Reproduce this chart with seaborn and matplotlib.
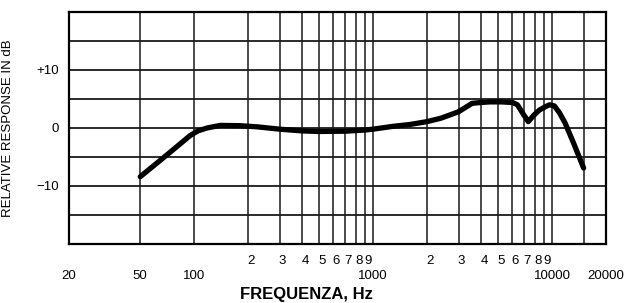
import numpy as np
import pandas as pd
import matplotlib
matplotlib.use("Agg")
import matplotlib.pyplot as plt
import matplotlib.transforms as mtransforms
import seaborn as sns

# frequency response curve (Hz, dB)
freq = [50, 72, 95, 105, 118, 140, 180, 225, 300, 400, 500, 700, 900, 1000,
        1300, 1600, 2000, 2400, 3000, 3570, 4000, 4500, 5200, 6000, 6400,
        6900, 7360, 7900, 8500, 9200, 9700, 10300, 11000, 11800, 13100, 15000]
response = [-8.4, -4.4, -1.3, -0.5, 0.0, 0.45, 0.4, 0.2, -0.2, -0.5, -0.6, -0.55,
            -0.35, -0.2, 0.3, 0.6, 1.1, 1.7, 2.8, 4.25, 4.4, 4.5, 4.5, 4.4, 4.0,
            2.4, 1.1, 2.2, 3.1, 3.7, 4.0, 3.8, 2.6, 0.9, -2.4, -6.9]

major_ticks = [20, 50, 100, 1000, 10000, 20000]
major_labels = ["20", "50", "100", "1000", "10000", "20000"]
minor_ticks = [200, 300, 400, 500, 600, 700, 800, 900,
               2000, 3000, 4000, 5000, 6000, 7000, 8000, 9000, 15000]
minor_labels = ["2", "3", "4", "5", "6", "7", "8", "9",
                "2", "3", "4", "5", "6", "7", "8", "9", ""]
y_ticks = [-20, -15, -10, -5, 0, 5, 10, 15, 20]
y_labels = ["", "", "\u221210", "", "0", "", "+10", "", ""]

df = pd.DataFrame({"freq": freq, "dB": response})

sns.set_theme(style="white")
plt.rcParams["font.family"] = ["Liberation Sans", "DejaVu Sans"]

fig = plt.figure(figsize=(6.25, 3.03), dpi=100)
ax = fig.add_axes([69/625, 1 - 244/303, (606 - 69)/625, (244 - 12)/303])

sns.lineplot(data=df, x="freq", y="dB", ax=ax, color="black", lw=3.8,
             solid_capstyle="round", solid_joinstyle="round")

ax.set_xscale("log")
ax.set_xlim(20, 20000)
ax.set_ylim(-20, 20)

ax.set_xticks(major_ticks)
ax.set_xticklabels(major_labels)
ax.set_xticks(minor_ticks, minor=True)
ax.set_xticklabels(minor_labels, minor=True)
ax.set_yticks(y_ticks)
ax.set_yticklabels(y_labels)

ax.tick_params(axis="x", which="major", length=0, pad=19, labelsize=9.5, colors="black")
ax.tick_params(axis="x", which="minor", length=0, pad=8, labelsize=9.5, colors="black")
ax.tick_params(axis="y", length=0, pad=7, labelsize=9.5, colors="black")

# nudge the small digit labels slightly right like the printed chart
off = mtransforms.ScaledTranslation(3/100, 0, fig.dpi_scale_trans)
for lab in ax.xaxis.get_minorticklabels():
    lab.set_transform(lab.get_transform() + off)

ax.grid(True, which="both", axis="x", color="#1a1a1a", lw=1.1)
ax.grid(True, which="major", axis="y", color="#1a1a1a", lw=1.3)
for sp in ax.spines.values():
    sp.set_color("black")
    sp.set_linewidth(1.6)

ax.set_xlabel("")
ax.set_ylabel("RELATIVE RESPONSE IN dB", fontsize=9.5, color="black")
ax.yaxis.set_label_coords(-0.102, 0.5)

fig.text(306/625, 1 - 295/303, "FREQUENZA, Hz", ha="center", va="center",
         fontsize=12, fontweight="bold", color="black")

plt.savefig("out.png", dpi=100)
